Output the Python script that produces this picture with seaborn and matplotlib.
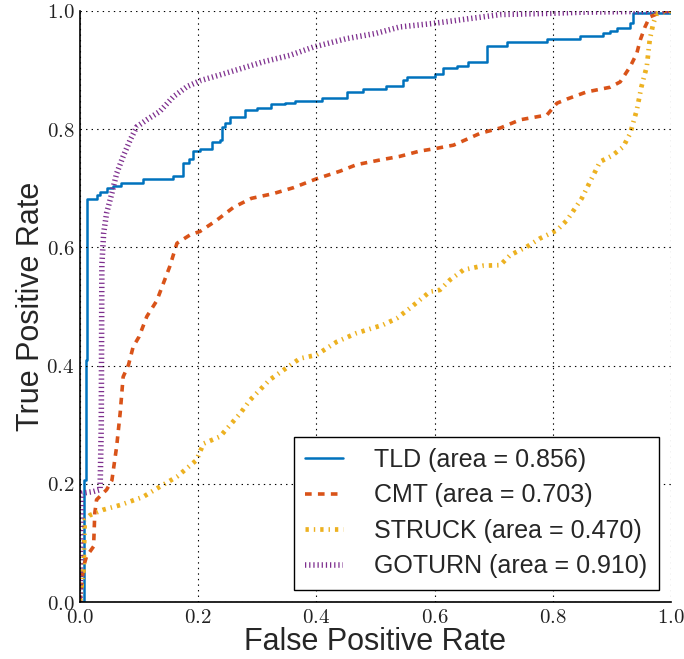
import matplotlib
matplotlib.use("Agg")
import matplotlib.pyplot as plt
import seaborn as sns
import pandas as pd
from matplotlib.ticker import FuncFormatter, MultipleLocator

# ---------------- data ----------------
tld_fpr = [0, 0.007, 0.010, 0.012, 0.029, 0.034, 0.045, 0.056, 0.070, 0.107, 0.158,
           0.174, 0.185, 0.192, 0.203, 0.224, 0.237, 0.240, 0.245, 0.254, 0.279, 0.299,
           0.324, 0.347, 0.364, 0.409, 0.451, 0.479, 0.518, 0.546, 0.553, 0.600, 0.614,
           0.638, 0.657, 0.689, 0.722, 0.790, 0.846, 0.885, 0.897, 0.908, 0.930, 0.936, 1.0]
tld_tpr = [0, 0.206, 0.410, 0.682, 0.688, 0.694, 0.700, 0.704, 0.709, 0.716, 0.720,
           0.743, 0.750, 0.763, 0.766, 0.779, 0.782, 0.804, 0.810, 0.821, 0.832, 0.836,
           0.842, 0.845, 0.848, 0.852, 0.863, 0.868, 0.873, 0.883, 0.888, 0.893, 0.903,
           0.907, 0.914, 0.941, 0.948, 0.952, 0.957, 0.962, 0.966, 0.971, 0.980, 0.997, 1.0]

cmt_fpr = [0, 0.003, 0.006, 0.011, 0.023, 0.025, 0.028, 0.045, 0.054, 0.062, 0.068,
           0.073, 0.082, 0.090, 0.100, 0.113, 0.130, 0.141, 0.152, 0.164, 0.186, 0.203,
           0.230, 0.260, 0.290, 0.327, 0.361, 0.400, 0.440, 0.468, 0.508, 0.541, 0.575,
           0.600, 0.632, 0.677, 0.711, 0.745, 0.790, 0.807, 0.824, 0.857, 0.897, 0.914,
           0.931, 0.942, 0.948, 0.956, 0.964, 0.986, 1.0]
cmt_tpr = [0, 0.030, 0.060, 0.077, 0.094, 0.150, 0.173, 0.190, 0.206, 0.263, 0.320,
           0.381, 0.401, 0.432, 0.449, 0.483, 0.510, 0.539, 0.568, 0.607, 0.621, 0.627,
           0.645, 0.668, 0.683, 0.691, 0.701, 0.716, 0.729, 0.740, 0.748, 0.754, 0.763,
           0.767, 0.773, 0.793, 0.802, 0.816, 0.824, 0.844, 0.851, 0.863, 0.871, 0.880,
           0.906, 0.928, 0.951, 0.973, 0.990, 0.999, 1.0]

struck_fpr = [0, 0.003, 0.006, 0.008, 0.017, 0.039, 0.068, 0.107, 0.135, 0.164, 0.197,
              0.209, 0.237, 0.271, 0.288, 0.321, 0.355, 0.372, 0.400, 0.434, 0.468, 0.513,
              0.536, 0.558, 0.592, 0.609, 0.626, 0.649, 0.682, 0.711, 0.728, 0.756, 0.778,
              0.807, 0.824, 0.849, 0.860, 0.870, 0.880, 0.900, 0.919, 0.931, 0.942, 0.950,
              0.959, 0.964, 0.970, 0.976, 1.0]
struck_tpr = [0, 0.030, 0.054, 0.139, 0.147, 0.156, 0.164, 0.178, 0.195, 0.212, 0.240,
              0.268, 0.280, 0.319, 0.342, 0.376, 0.400, 0.412, 0.418, 0.440, 0.455, 0.469,
              0.480, 0.497, 0.525, 0.528, 0.545, 0.562, 0.569, 0.570, 0.587, 0.601, 0.615,
              0.629, 0.646, 0.683, 0.705, 0.725, 0.745, 0.755, 0.770, 0.793, 0.832, 0.872,
              0.906, 0.951, 0.979, 0.996, 1.0]

goturn_fpr = [0, 0.002, 0.003, 0.023, 0.034, 0.036, 0.037, 0.040, 0.045, 0.054, 0.062,
              0.073, 0.085, 0.096, 0.113, 0.135, 0.158, 0.181, 0.203, 0.254, 0.310, 0.355,
              0.395, 0.450, 0.500, 0.541, 0.598, 0.666, 0.711, 0.795, 0.850, 1.0]
goturn_tpr = [0, 0.180, 0.184, 0.187, 0.190, 0.300, 0.570, 0.624, 0.658, 0.692, 0.725,
              0.754, 0.782, 0.804, 0.816, 0.830, 0.855, 0.872, 0.882, 0.897, 0.914, 0.925,
              0.939, 0.953, 0.962, 0.973, 0.979, 0.988, 0.994, 0.996, 0.998, 1.0]

labels = ["TLD (area = 0.856)", "CMT (area = 0.703)",
          "STRUCK (area = 0.470)", "GOTURN (area = 0.910)"]

# ---------------- style ----------------
sns.set_style("white")
plt.rcParams.update({
    "font.family": ["Liberation Sans", "DejaVu Sans"],
    "mathtext.fontset": "cm",
    "lines.scale_dashes": False,
    "xtick.direction": "in",
    "ytick.direction": "in",
})

fig = plt.figure(figsize=(6.84, 6.59), dpi=100)
ax = fig.add_axes([80 / 684, 57 / 659, 591 / 684, 591 / 659])

sns.lineplot(x=tld_fpr, y=tld_tpr, ax=ax, sort=False, estimator=None,
             color="#0072BD", lw=1.8, drawstyle="steps-post", label=labels[0])
sns.lineplot(x=cmt_fpr, y=cmt_tpr, ax=ax, sort=False, estimator=None,
             color="#D95319", lw=2.6, linestyle=(0, (4.8, 4.5)), label=labels[1])
sns.lineplot(x=struck_fpr, y=struck_tpr, ax=ax, sort=False, estimator=None,
             color="#EDB120", lw=3.4, linestyle=(0, (2.4, 3.6, 1.0, 3.6)), label=labels[2])
sns.lineplot(x=goturn_fpr, y=goturn_tpr, ax=ax, sort=False, estimator=None,
             color="#7E2F8E", lw=4.0, linestyle=(0, (0.9, 2.1)), label=labels[3])

ax.set_xlim(0, 1)
ax.set_ylim(0, 1)
ax.xaxis.set_major_locator(MultipleLocator(0.2))
ax.yaxis.set_major_locator(MultipleLocator(0.2))
fmt = FuncFormatter(lambda v, p: r"$%.1f$" % v)
ax.xaxis.set_major_formatter(fmt)
ax.yaxis.set_major_formatter(fmt)
ax.tick_params(axis="both", which="major", length=4, width=1, color="black",
               labelsize=15, labelcolor="#222222", pad=4)

ax.grid(True, color="black", linestyle=(0, (1, 3)), lw=0.8)
ax.set_axisbelow(False)
for side in ["top", "right"]:
    ax.spines[side].set_visible(False)
for side in ["left", "bottom"]:
    ax.spines[side].set_color("black")
    ax.spines[side].set_linewidth(1.2)

ax.set_xlabel("False Positive Rate", fontsize=22, labelpad=0)
ax.set_ylabel("True Positive Rate", fontsize=22, labelpad=0)

leg = ax.legend(loc="lower right", fontsize=18, frameon=True, fancybox=False,
                edgecolor="black", framealpha=1, handlelength=1.5,
                handletextpad=1.25, labelspacing=0.46, borderpad=0.45,
                borderaxespad=0.5)
leg.get_frame().set_linewidth(1.0)

fig.savefig("out.png", dpi=100)
